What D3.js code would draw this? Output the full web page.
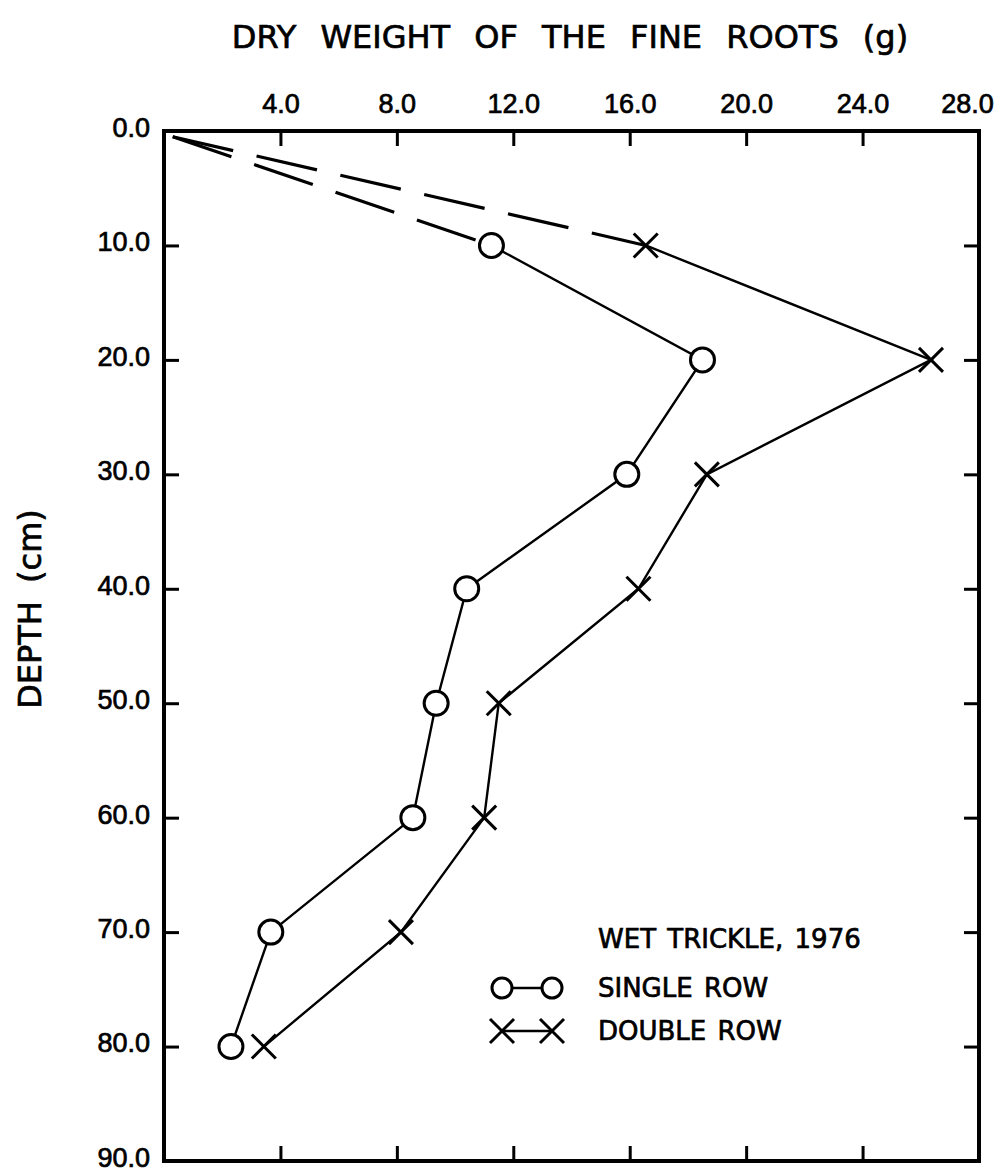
<!DOCTYPE html>
<html>
<head>
<meta charset="utf-8">
<script src="https://cdn.jsdelivr.net/npm/d3@7"></script>
<style>
  body { margin: 0; background: #fff; }
  svg { display: block; font-family: "DejaVu Sans", sans-serif; }
  text { fill: #000; stroke: #000; stroke-width: 0.7; }
  .tick line { stroke: #000; stroke-width: 3; }
  .tick text { font-size: 27px; }
  .domain { display: none; }
</style>
</head>
<body>
<svg id="chart" width="1004" height="1174"></svg>
<script>
// depth profile of fine root dry weight, wet trickle 1976
const depths = [10, 20, 30, 40, 50, 60, 70, 80];
const singleRow = [11.25, 18.5, 15.9, 10.4, 9.35, 8.55, 3.67, 2.3];
const doubleRow = [16.55, 26.35, 18.65, 16.3, 11.5, 11.0, 8.14, 3.43];
const dashStart = { w: 0.3, d: 0.5 };   // dashed guide starts near the origin
const xTicks = [4, 8, 12, 16, 20, 24, 28];
const yTicks = [0, 10, 20, 30, 40, 50, 60, 70, 80, 90];

const margin = { left: 164, right: 979, top: 131, bottom: 1161 };

const svg = d3.select('#chart');

const x = d3.scaleLinear().domain([0, 28]).range([margin.left, margin.right]);
const y = d3.scaleLinear().domain([0, 90]).range([margin.top, margin.bottom]);

// frame
svg.append('rect')
    .attr('x', margin.left)
    .attr('y', margin.top)
    .attr('width', margin.right - margin.left)
    .attr('height', margin.bottom - margin.top)
    .attr('fill', 'none')
    .attr('stroke', '#000')
    .attr('stroke-width', 4);

// top axis with labels, ticks pointing inward
const xAxis = svg.append('g')
    .attr('transform', `translate(0,${margin.top})`)
    .call(d3.axisTop(x).tickValues(xTicks).tickSize(-15).tickSizeOuter(0)
        .tickPadding(18).tickFormat(d3.format('.1f')));
xAxis.selectAll('.tick text').filter(d => d === 28).attr('dx', -12);

// bottom axis, ticks only
svg.append('g')
    .attr('transform', `translate(0,${margin.bottom})`)
    .call(d3.axisBottom(x).tickValues(xTicks.slice(0, -1)).tickSize(-15).tickSizeOuter(0).tickFormat(''));

// left axis with labels
const yAxis = svg.append('g')
    .attr('transform', `translate(${margin.left},0)`)
    .call(d3.axisLeft(y).tickValues(yTicks).tickSize(-15).tickSizeOuter(0)
        .tickPadding(14).tickFormat(d3.format('.1f')));
yAxis.selectAll('.tick text').attr('dy', '0.2em');
yAxis.selectAll('.tick line').filter(d => d === 0 || d === 90).remove();

// right axis, ticks only
svg.append('g')
    .attr('transform', `translate(${margin.right},0)`)
    .call(d3.axisRight(y).tickValues(yTicks.slice(1, -1)).tickSize(-15).tickSizeOuter(0).tickFormat(''));

// titles
svg.append('text')
    .attr('x', 570)
    .attr('y', 48)
    .attr('text-anchor', 'middle')
    .attr('font-size', 32)
    .attr('word-spacing', 14)
    .text('DRY WEIGHT OF THE FINE ROOTS (g)');

svg.append('text')
    .attr('transform', 'translate(41,609) rotate(-90)')
    .attr('text-anchor', 'middle')
    .attr('font-size', 32)
    .attr('word-spacing', 8)
    .text('DEPTH (cm)');

const line = d3.line().x(d => x(d.w)).y(d => y(d.d));

const singleData = depths.map((d, i) => ({ d: d, w: singleRow[i] }));
const doubleData = depths.map((d, i) => ({ d: d, w: doubleRow[i] }));

// dashed extrapolation to the surface
[singleData[0], doubleData[0]].forEach(p => {
    svg.append('path')
        .attr('d', line([dashStart, p]))
        .attr('fill', 'none')
        .attr('stroke', '#000')
        .attr('stroke-width', 3.2)
        .attr('stroke-dasharray', '62,24');
});

[singleData, doubleData].forEach(series => {
    svg.append('path')
        .attr('d', line(series))
        .attr('fill', 'none')
        .attr('stroke', '#000')
        .attr('stroke-width', 2.4);
});

// circle markers
svg.selectAll('circle.single')
    .data(singleData)
    .enter()
    .append('circle')
    .attr('class', 'single')
    .attr('cx', d => x(d.w))
    .attr('cy', d => y(d.d))
    .attr('r', 12)
    .attr('fill', '#fff')
    .attr('stroke', '#000')
    .attr('stroke-width', 3);

// x markers
const cross = s => `M${-s},${-s}L${s},${s}M${-s},${s}L${s},${-s}`;
svg.selectAll('path.double')
    .data(doubleData)
    .enter()
    .append('path')
    .attr('class', 'double')
    .attr('transform', d => `translate(${x(d.w)},${y(d.d)})`)
    .attr('d', cross(12))
    .attr('stroke', '#000')
    .attr('stroke-width', 3);

// legend
const legend = svg.append('g').attr('font-size', 26).attr('word-spacing', 3);
legend.append('text').attr('x', 598).attr('y', 948).text('WET TRICKLE, 1976');
legend.append('text').attr('x', 598).attr('y', 997).text('SINGLE ROW');
legend.append('text').attr('x', 598).attr('y', 1040).text('DOUBLE ROW');

legend.append('line')
    .attr('x1', 502).attr('x2', 552).attr('y1', 988).attr('y2', 988)
    .attr('stroke', '#000').attr('stroke-width', 2.4);
[502, 552].forEach(cx => {
    legend.append('circle')
        .attr('cx', cx).attr('cy', 988).attr('r', 10)
        .attr('fill', '#fff').attr('stroke', '#000').attr('stroke-width', 3);
});
legend.append('line')
    .attr('x1', 502).attr('x2', 552).attr('y1', 1031).attr('y2', 1031)
    .attr('stroke', '#000').attr('stroke-width', 2.4);
[502, 552].forEach(cx => {
    legend.append('path')
        .attr('transform', `translate(${cx},1031)`)
        .attr('d', cross(12))
        .attr('stroke', '#000').attr('stroke-width', 3);
});
</script>
</body>
</html>
